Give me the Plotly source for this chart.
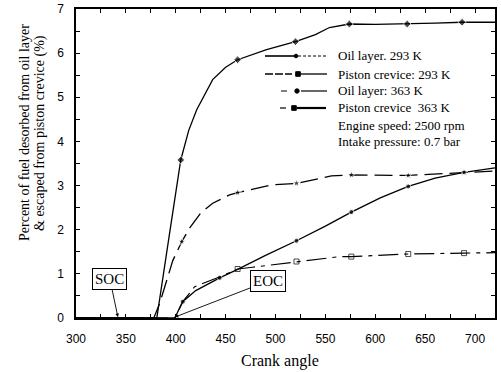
import plotly.graph_objects as go

# ---- data -------------------------------------------------------------
# Piston crevice, 293 K (solid, filled markers)
pc293_x = [300, 381, 393, 405, 413, 421, 437, 450, 462, 491, 520, 540, 554, 574, 600, 632, 660, 687, 720]
pc293_y = [0, 0, 1.8, 3.58, 4.25, 4.72, 5.40, 5.68, 5.85, 6.08, 6.26, 6.42, 6.58, 6.66, 6.65, 6.66, 6.68, 6.70, 6.70]
pc293_mark = [405, 462, 520, 574, 632, 687]

# Oil layer, 293 K (solid, small filled markers)
ol293_x = [300, 399, 407, 420, 444, 462, 490, 521, 550, 576, 605, 633, 660, 689, 720]
ol293_y = [0, 0, 0.37, 0.62, 0.91, 1.10, 1.42, 1.75, 2.08, 2.40, 2.72, 2.98, 3.17, 3.30, 3.40]
ol293_mark = [407, 444, 521, 576, 633, 689]

# Piston crevice, 363 K (long dash, filled markers)
pc363_x = [300, 378, 384, 397, 406, 414, 425, 437, 454, 462, 497, 521, 556, 576, 633, 689, 720]
pc363_y = [0, 0, 0.34, 1.30, 1.73, 2.04, 2.38, 2.60, 2.79, 2.84, 3.02, 3.05, 3.22, 3.24, 3.23, 3.30, 3.33]
pc363_mark = [406, 462, 521, 576, 633, 689]

# Oil layer, 363 K (dash-dot, open squares)
ol363_x = [300, 399, 407, 419, 446, 462, 477, 501, 521, 564, 576, 633, 689, 720]
ol363_y = [0, 0, 0.37, 0.71, 0.95, 1.11, 1.15, 1.22, 1.28, 1.39, 1.39, 1.45, 1.47, 1.48]
ol363_mark = [462, 521, 576, 633, 689]

x_ticks = [300, 350, 400, 450, 500, 550, 600, 650, 700]
y_ticks = [0, 1, 2, 3, 4, 5, 6, 7]

legend_labels = ["Oil layer. 293 K", "Piston crevice: 293 K", "Oil layer: 363 K",
                 "Piston crevice  363 K", "Engine speed: 2500 rpm",
                 "Intake pressure: 0.7 bar"]

SERIF = "Liberation Serif, Times New Roman, serif"
W, H = 501, 372
L, R, T, B = 76, 6, 9, 54


def px(xp):
    return (xp - L) / (W - L - R)


def py(yp):
    return (H - B - yp) / (H - T - B)


def sizes(xs, marks, s):
    return [s if v in marks else 0 for v in xs]


fig = go.Figure()

fig.add_trace(go.Scatter(
    x=pc293_x, y=pc293_y, mode="lines+markers",
    line=dict(color="black", width=1.3),
    marker=dict(symbol="diamond", color="black", size=sizes(pc293_x, pc293_mark, 6)),
    showlegend=False))

fig.add_trace(go.Scatter(
    x=ol293_x, y=ol293_y, mode="lines+markers",
    line=dict(color="black", width=1.3),
    marker=dict(symbol="circle", color="black", size=sizes(ol293_x, ol293_mark, 5)),
    showlegend=False))

fig.add_trace(go.Scatter(
    x=pc363_x, y=pc363_y, mode="lines+markers",
    line=dict(color="black", width=1.3, dash="18px,7px"),
    marker=dict(symbol="star", color="black", size=sizes(pc363_x, pc363_mark, 6)),
    showlegend=False))

fig.add_trace(go.Scatter(
    x=ol363_x, y=ol363_y, mode="lines+markers",
    line=dict(color="black", width=1.2, dash="20px,6px,4px,6px"),
    marker=dict(symbol="square-open", color="black", size=sizes(ol363_x, ol363_mark, 5),
                line=dict(width=1)),
    showlegend=False))

# ---- legend block drawn by hand ----------------------------------------
shapes = []
row_y = [56, 74, 91, 108, 125, 141]


def seg(x0, x1, yp, width=1.3, dash="solid"):
    shapes.append(dict(type="line", xref="paper", yref="paper",
                       x0=px(x0), x1=px(x1), y0=py(yp), y1=py(yp),
                       line=dict(color="black", width=width, dash=dash)))


def dot(xc, yp, r=2.2, filled=True, kind="circle"):
    shapes.append(dict(type=kind, xref="paper", yref="paper",
                       x0=px(xc - r), x1=px(xc + r), y0=py(yp + r), y1=py(yp - r),
                       line=dict(color="black", width=1),
                       fillcolor="black" if filled else "white"))


# row 1: solid then dashed tail
seg(265, 296, row_y[0], 1.6)
seg(298, 327, row_y[0], 1.0, "3px,2px")
dot(296, row_y[0], 1.8)
# row 2: dashed lead then solid
seg(265, 292, row_y[1], 1.3, "8px,2px")
seg(298, 327, row_y[1], 1.3)
dot(298, row_y[1], 2.3, kind="rect")
# row 3: short dash, marker, solid
seg(281, 287, row_y[2], 1.0)
seg(301, 327, row_y[2], 1.2)
dot(297, row_y[2], 2.2)
# row 4: short dash, marker, thick solid
seg(280, 286, row_y[3], 1.2)
seg(297, 326, row_y[3], 2.2)
dot(294, row_y[3], 2.3, kind="rect")

annotations = []
for lab, yp in zip(legend_labels, row_y):
    annotations.append(dict(
        text=lab, xref="paper", yref="paper", x=px(336), y=py(yp),
        xanchor="left", yanchor="middle", showarrow=False,
        font=dict(family=SERIF, size=13, color="black")))

# start / end of combustion markers
annotations.append(dict(
    text="SOC", x=342, y=0.02, xref="x", yref="y", ax=-8, ay=-38,
    showarrow=True, arrowhead=2, arrowsize=0.8, arrowwidth=0.9, arrowcolor="black",
    bordercolor="black", borderwidth=1, borderpad=2, bgcolor="white",
    font=dict(family=SERIF, size=15, color="black")))
annotations.append(dict(
    text="EOC", x=399, y=0.02, xref="x", yref="y", ax=93, ay=-36,
    showarrow=True, arrowhead=2, arrowsize=0.8, arrowwidth=0.9, arrowcolor="black",
    bordercolor="black", borderwidth=1, borderpad=2, bgcolor="white",
    font=dict(family=SERIF, size=15, color="black")))

# two-line rotated y title
annotations.append(dict(
    text="Percent of fuel desorbed from oil layer", xref="paper", yref="paper",
    x=-(L - 24) / (W - L - R), y=py(133), textangle=-90, showarrow=False,
    xanchor="center", yanchor="middle",
    font=dict(family=SERIF, size=14, color="black")))
annotations.append(dict(
    text="& escaped from piston crevice (%)", xref="paper", yref="paper",
    x=-(L - 40) / (W - L - R), y=py(133), textangle=-90, showarrow=False,
    xanchor="center", yanchor="middle",
    font=dict(family=SERIF, size=14, color="black")))

# x title
annotations.append(dict(
    text="Crank angle", xref="paper", yref="paper", x=px(280), y=py(361),
    xanchor="center", yanchor="middle", showarrow=False,
    font=dict(family=SERIF, size=16, color="black")))

axis_common = dict(
    showline=True, linecolor="black", linewidth=1.5, mirror="ticks",
    ticks="inside", ticklen=4, tickwidth=1, tickcolor="black",
    showgrid=False, zeroline=False,
    tickfont=dict(family="Liberation Sans, Arial, sans-serif", size=12, color="black"),
)

fig.update_layout(
    width=W, height=H,
    margin=dict(l=L, r=R, t=T, b=B, autoexpand=False),
    paper_bgcolor="white", plot_bgcolor="white",
    xaxis=dict(range=[300, 720], tickvals=x_ticks, ticklabelstandoff=9,
               minor=dict(dtick=25, ticks="inside", ticklen=4, tickcolor="black"),
               **axis_common),
    yaxis=dict(range=[0, 7], tickvals=y_ticks, ticklabelstandoff=8,
               minor=dict(dtick=0.5, ticks="inside", ticklen=4, tickcolor="black"),
               **axis_common),
    shapes=shapes,
    annotations=annotations,
)

fig.write_html("out.html")
